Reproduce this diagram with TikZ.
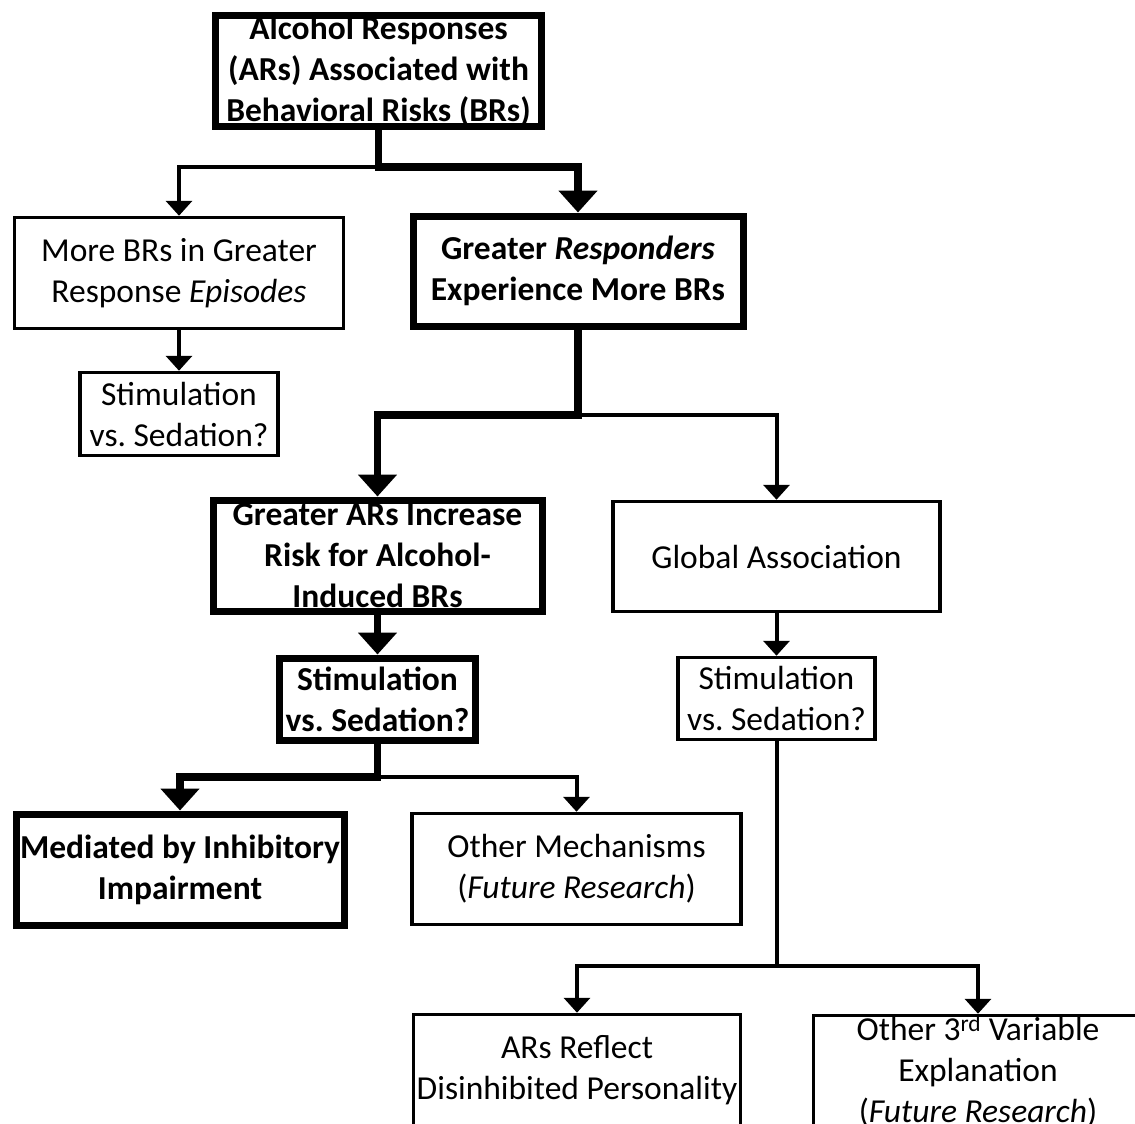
\documentclass[tikz,border=0pt]{standalone}
\usepackage{fontspec}
\setmainfont{Carlito}
\usetikzlibrary{arrows.meta}

\tikzset{
  boxbase/.style={draw, inner sep=0pt, inner xsep=-12pt, inner ysep=-12pt,
    align=center, font=\fontsize{33.5}{41}\selectfont\frenchspacing},
  thinbox/.style={boxbase, line width=3.5pt},
  thickbox/.style={boxbase, line width=7pt,
    font=\fontsize{33.5}{41}\selectfont\frenchspacing\bfseries},
  thinline/.style={line width=4pt},
  thickline/.style={line width=7.5pt},
  thinarrow/.style={thinline, -{Triangle[width=26pt,length=15pt]}},
  thickarrow/.style={thickline, -{Triangle[width=38pt,length=22pt]}},
}

\begin{document}
\begin{tikzpicture}[x=1pt, y=-1pt]
  \path[use as bounding box] (0,0) rectangle (1135,1124);
  \clip (0,0) rectangle (1135,1124);

  % boxes
  \node[thickbox, minimum width=326pt, minimum height=110pt] (top) at (378.5,71)
    {Alcohol Responses\\(ARs) Associated with\\Behavioral Risks (BRs)};
  \node[thinbox, minimum width=329pt, minimum height=111pt] (episodes) at (179,273)
    {More BRs in Greater\\Response \textit{Episodes}};
  \node[thickbox, minimum width=330pt, minimum height=110pt] (responders) at (578,271)
    {Greater \textit{Responders}\\Experience More BRs};
  \node[thinbox, minimum width=198pt, minimum height=83pt] (stimL) at (179,414)
    {Stimulation\\vs. Sedation?};
  \node[thickbox, minimum width=329pt, minimum height=111pt] (induced) at (377.5,555.5)
    {Greater ARs Increase\\Risk for Alcohol-\\Induced BRs};
  \node[thinbox, minimum width=327pt, minimum height=110pt] (global) at (776.5,556.5)
    {Global Association};
  \node[thickbox, minimum width=196pt, minimum height=82pt] (stimB) at (377.5,699)
    {Stimulation\\vs. Sedation?};
  \node[thinbox, minimum width=197pt, minimum height=82pt] (stimR) at (776.5,698.5)
    {Stimulation\\vs. Sedation?};
  \node[thickbox, minimum width=328pt, minimum height=111pt] (mediated) at (180,869.5)
    {Mediated by Inhibitory\\Impairment};
  \node[thinbox, minimum width=329pt, minimum height=111pt] (othermech) at (576.5,869)
    {Other Mechanisms\\(\textit{Future Research})};
  \node[thinbox, minimum width=327pt, minimum height=111pt] (reflect) at (577,1070)
    {ARs Reflect\\Disinhibited Personality};
  \node[thinbox, minimum width=329pt, minimum height=111pt] (thirdvar) at (978,1071)
    {Other 3\textsuperscript{rd} Variable\\Explanation\\(\textit{Future Research})};

  % junction points
  \coordinate (j1) at (378.5,167);
  \coordinate (j2) at (578,415);
  \coordinate (j3) at (377.5,777);
  \coordinate (j4) at (776.5,966);

  % connectors
  \draw[thinarrow] (j1) -| (episodes.north);
  \draw[thickarrow] (top.south) -- (j1) -| (responders.north);
  \draw[thinarrow] (episodes.south) -- (stimL.north);

  \draw[thinarrow] (j2) -| (global.north);
  \draw[thickarrow] (responders.south) -- (j2) -| (induced.north);
  \draw[thickarrow] (induced.south) -- (stimB.north);
  \draw[thinarrow] (global.south) -- (stimR.north);

  \draw[thinarrow] (j3) -| (othermech.north);
  \draw[thickarrow] (stimB.south) -- (j3) -| (mediated.north);

  \draw[thinline] (stimR.south) -- (j4);
  \draw[thinarrow] (j4) -| (reflect.north);
  \draw[thinarrow] (j4) -| (thirdvar.north);
\end{tikzpicture}
\end{document}
